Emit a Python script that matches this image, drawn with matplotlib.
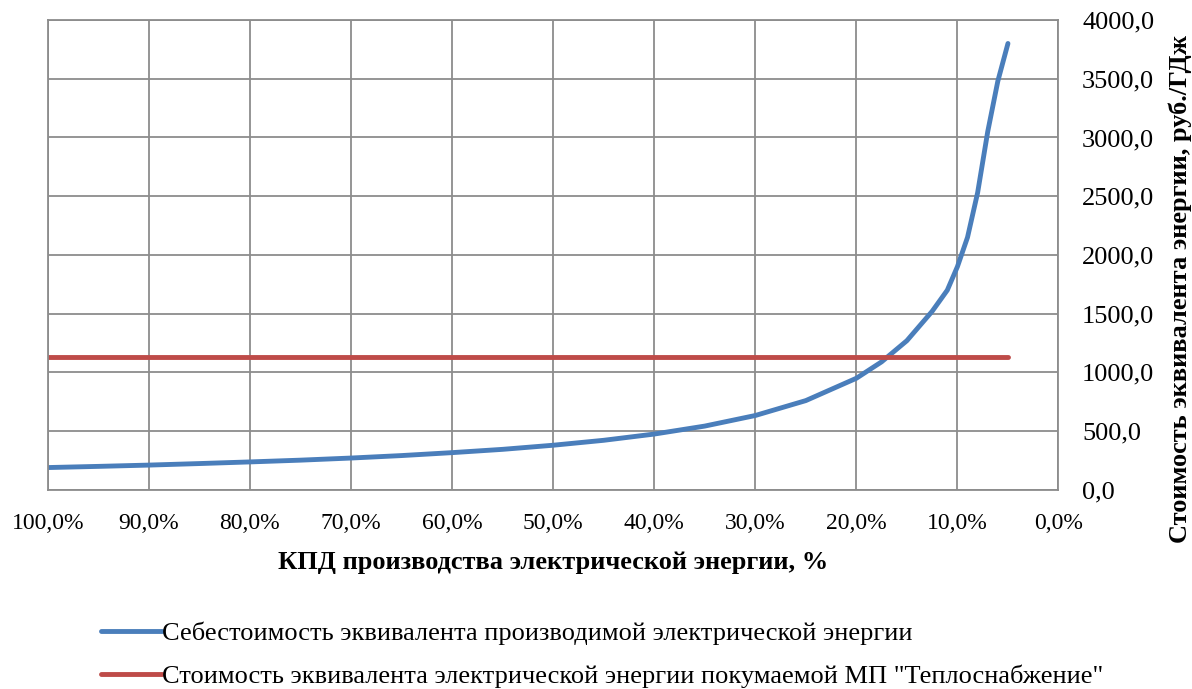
import matplotlib
matplotlib.use("Agg")
import matplotlib.pyplot as plt
from matplotlib.ticker import FuncFormatter

plt.rcParams['font.family'] = ['Liberation Serif', 'DejaVu Serif']

# КПД, %
eff = [100, 95, 90, 85, 80, 75, 70, 65, 60, 55, 50, 45, 40, 35, 30, 25, 20,
       17.5, 15, 12.5, 11, 10, 9, 8, 7, 6, 5]
# Себестоимость, руб./ГДж
cost = [190, 200, 211, 224, 238, 253, 271, 292, 317, 345, 380, 422, 475, 543,
        633, 760, 950, 1090, 1270, 1520, 1700, 1900, 2150, 2530, 3050, 3480, 3800]
# Стоимость покупаемой энергии
buy_eff = [100, 5]
buy_cost = [1127, 1127]

label_own = "Себестоимость эквивалента производимой электрической энергии"
label_buy = 'Стоимость эквивалента электрической энергии покумаемой МП "Теплоснабжение"'

fig = plt.figure(figsize=(11.92, 6.89), dpi=100)
ax = fig.add_axes([0.040, 0.289, 0.848, 0.682])

l1, = ax.plot(eff, cost, color='#4a7ebb', lw=3.5, solid_capstyle='round',
              solid_joinstyle='round')
l2, = ax.plot(buy_eff, buy_cost, color='#be4b48', lw=3.5, solid_capstyle='round')

ax.set_xlim(100, 0)
ax.set_ylim(0, 4000)
ax.set_xticks(range(100, -1, -10))
ax.set_yticks(range(0, 4001, 500))
ax.xaxis.set_major_formatter(FuncFormatter(lambda v, p: f"{v:.1f}%".replace('.', ',')))
ax.yaxis.set_major_formatter(FuncFormatter(lambda v, p: f"{v:.1f}".replace('.', ',')))
ax.yaxis.tick_right()
ax.tick_params(length=0, colors='black')
ax.tick_params(axis='x', labelsize=17, pad=17)
ax.tick_params(axis='y', labelsize=19, pad=17)
ax.grid(True, color='#8c8c8c', lw=1.3)
for s in ax.spines.values():
    s.set_color('#8c8c8c')
    s.set_linewidth(1.3)

ax.set_xlabel("КПД производства электрической энергии, %", fontsize=19,
              fontweight='bold', labelpad=12)
fig.text(0.990, 0.58, "Стоимость эквивалента энергии, руб./ГДж", fontsize=19,
         fontweight='bold', rotation=90, ha='center', va='center')

fig.legend([l1, l2], [label_own, label_buy], loc='upper left',
           bbox_to_anchor=(0.076, 0.113), frameon=False, fontsize=19,
           handlelength=2.3, handletextpad=0.0, labelspacing=0.75,
           borderaxespad=0)

fig.savefig("out.png", dpi=100)
